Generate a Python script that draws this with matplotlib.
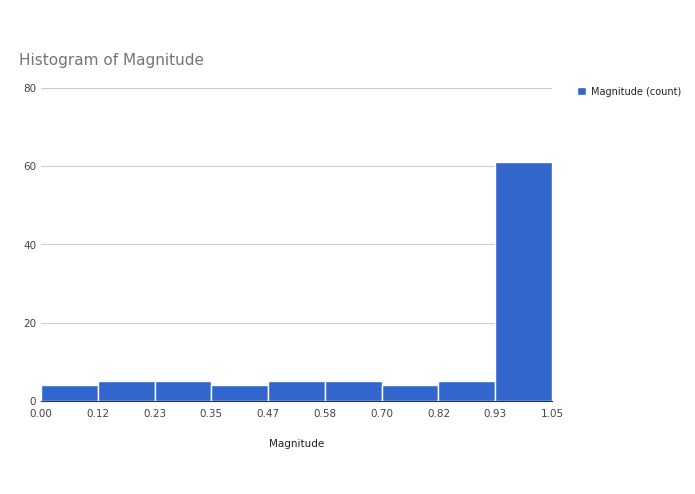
import matplotlib
matplotlib.use("Agg")
import matplotlib.pyplot as plt
import numpy as np

edges = ["0.00", "0.12", "0.23", "0.35", "0.47", "0.58", "0.70", "0.82", "0.93", "1.05"]
counts = [4, 5, 5, 4, 5, 5, 4, 5, 61]

fig = plt.figure(figsize=(6.95, 4.94), dpi=100)
ax = fig.add_axes([41/695, 1-401/494, (552-41)/695, (401-88)/494])

x = np.arange(len(counts))
ax.bar(x, counts, width=1.0, align="edge", color="#3366cc", edgecolor="white", linewidth=1, zorder=3,
       label="Magnitude (count)")
ax.set_xlim(0, len(counts))
ax.set_ylim(0, 80)
ax.set_xticks(np.arange(len(edges)))
ax.set_xticklabels(edges)
ax.set_yticks([0, 20, 40, 60, 80])
ax.grid(axis="y", color="#cccccc", linewidth=0.8, zorder=0)
for s in ["top", "right", "left"]:
    ax.spines[s].set_visible(False)
ax.spines["bottom"].set_color("#333333")
ax.tick_params(axis="both", length=0, labelsize=7.5, colors="#444444")
ax.tick_params(axis="x", pad=6)
ax.set_xlabel("Magnitude", fontsize=7.5, color="#222222", labelpad=14)

fig.text(19/695, 1-61/494, "Histogram of Magnitude", fontsize=11, color="#757575", va="center")
fig.legend(loc="upper left", bbox_to_anchor=(568/695, 1-78/494), frameon=False, fontsize=7,
           handlelength=0.9, handleheight=0.9, handletextpad=0.6, labelcolor="#222222")

fig.savefig("out.png", dpi=100)
